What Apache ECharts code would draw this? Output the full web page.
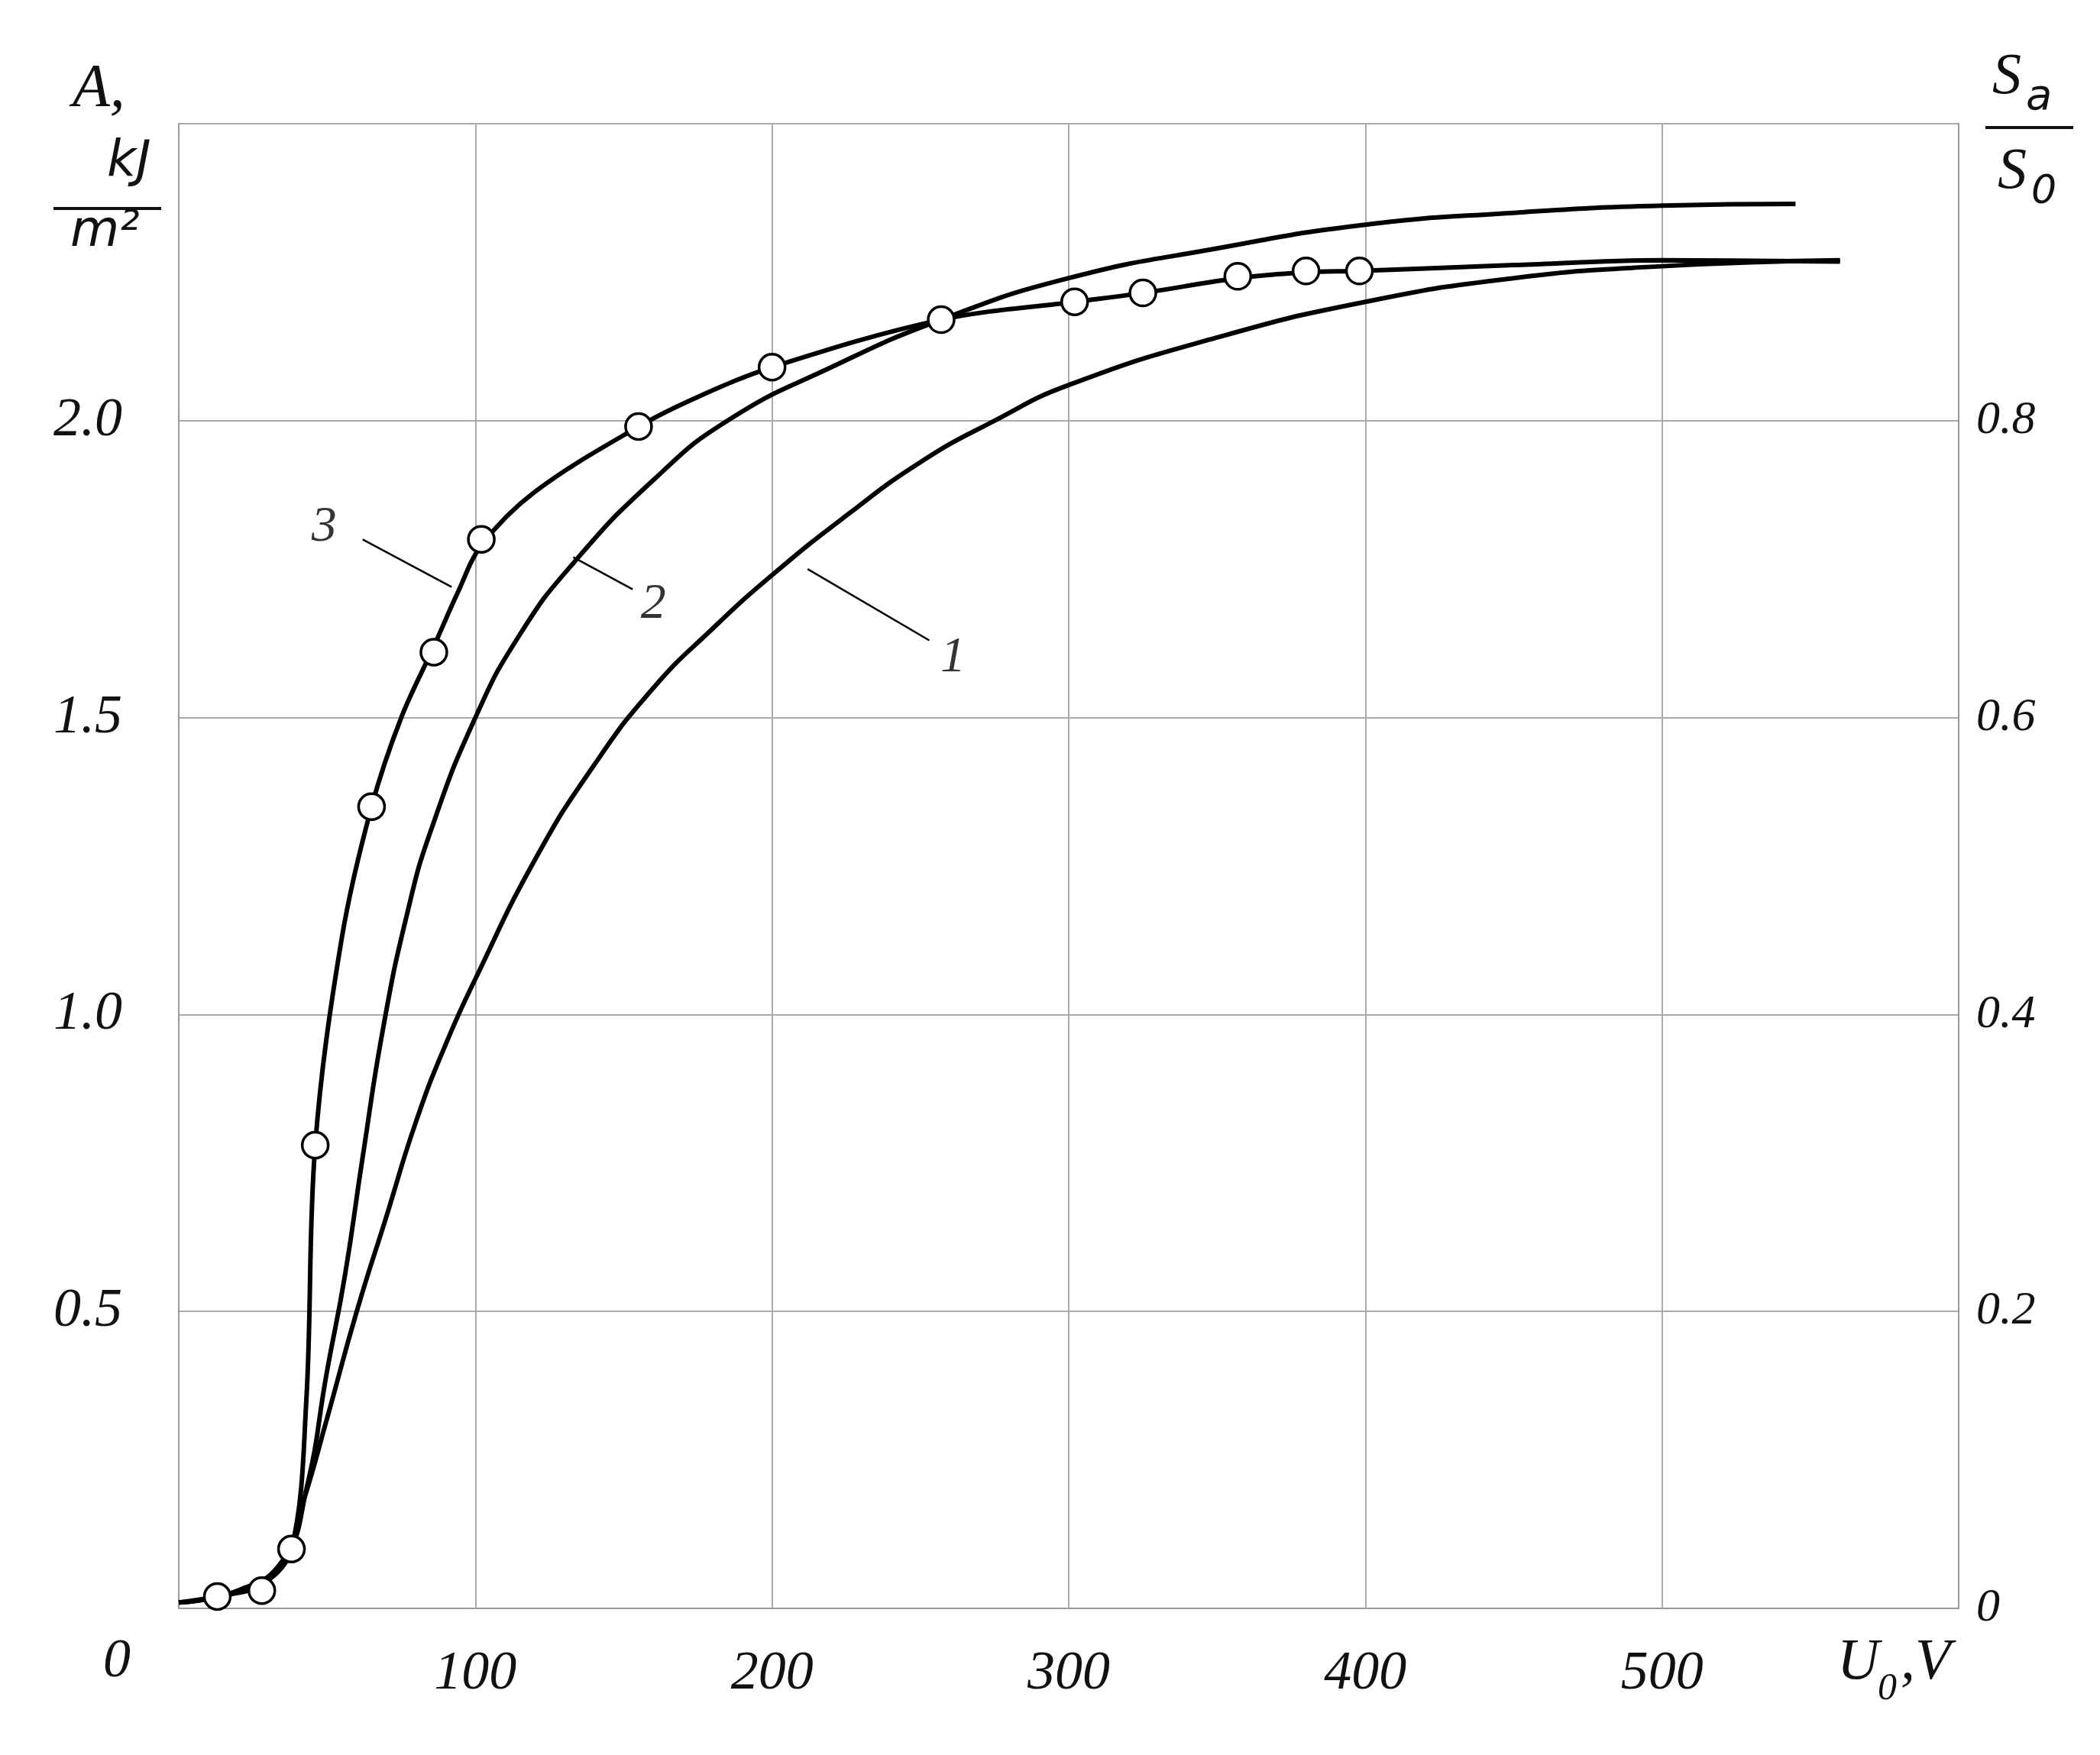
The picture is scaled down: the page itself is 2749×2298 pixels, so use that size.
<!DOCTYPE html>
<html><head><meta charset="utf-8">
<script src="https://cdn.jsdelivr.net/npm/echarts@6/dist/echarts.min.js"></script>
<style>html,body{margin:0;background:#fff}#c{width:2749px;height:2298px}</style>
</head><body><div id="c"></div>
<script>
const curve1 = [[0,0.01],[20,0.03],[35,0.08],[42,0.18],[50,0.32],[60,0.5],[70,0.66],[80,0.82],[90,0.95],[100,1.06],[120,1.26],[140,1.42],[160,1.55],[180,1.65],[200,1.74],[225,1.84],[250,1.93],[275,2.0],[300,2.06],[350,2.14],[400,2.2],[450,2.24],[500,2.26],[560,2.27]];
const curve2 = [[0,0.01],[20,0.03],[35,0.08],[43,0.2],[50,0.4],[56,0.56],[62,0.76],[69,0.98],[77,1.17],[85,1.31],[100,1.5],[115,1.64],[133,1.76],[160,1.9],[185,2.0],[220,2.09],[257,2.17],[300,2.24],[350,2.29],[400,2.33],[450,2.35],[500,2.362],[545,2.365]];
const curve3Line = [[0,0.01],[13,0.02],[28,0.04],[38,0.1],[43,0.35],[46,0.78],[55,1.13],[65,1.35],[75,1.5],[86,1.62],[94,1.71],[102,1.79],[120,1.88],[155,1.99],[175,2.04],[200,2.09],[257,2.17],[302,2.2],[325,2.215],[357,2.24],[380,2.25],[398,2.252],[450,2.262],[500,2.27],[560,2.268]];
const curve3Points = [[13,0.02],[28,0.03],[38,0.1],[46,0.78],[65,1.35],[86,1.61],[102,1.8],[155,1.99],[200,2.09],[257,2.17],[302,2.2],[325,2.215],[357,2.243],[380,2.252],[398,2.252]];
const leaders = [ [[212,1.75],[253,1.63]], [[133,1.77],[153,1.716]], [[62,1.80],[92,1.72]] ];
const labelNames = ['1','2','3'];
const labelPos = [[261,1.60],[160,1.69],[49,1.82]];

const font = 'Liberation Serif';
const chart = echarts.init(document.getElementById('c'));
const lineS = (d, sm) => ({type:'line', data:d, smooth:sm, showSymbol:false, lineStyle:{color:'#000', width:6}, z:3});
const series = [lineS(curve1,0.5), lineS(curve2,0.5), lineS(curve3Line,0.35),
 {type:'scatter', data:curve3Points, symbol:'circle', symbolSize:34, itemStyle:{color:'#fff', borderColor:'#000', borderWidth:3.5, opacity:1}, z:5}];
leaders.forEach(l=>series.push({type:'line', data:l, showSymbol:false, lineStyle:{color:'#000', width:2.5}}));
series.push({type:'scatter', data:labelPos.map((p,i)=>({value:p, name:labelNames[i]})), symbolSize:1,
  label:{show:true, position:'inside', formatter:p=>p.name, fontFamily:font, fontStyle:'italic', fontSize:66, color:'#000'}, itemStyle:{color:'rgba(0,0,0,0)'}});
chart.setOption({
 animation:false,
 grid:{left:234, right:185, top:162, bottom:192},
 xAxis:{type:'value', min:0, max:600, interval:100,
  axisLine:{show:true, lineStyle:{color:'#999', width:2}}, axisTick:{show:false},
  splitLine:{show:true, lineStyle:{color:'#aaa', width:2}},
  axisLabel:{margin:50, fontFamily:font, fontStyle:'italic', fontSize:72, color:'#111', formatter:v=>(v===0||v===600)?'':String(v)}},
 yAxis:[{type:'value', min:0, max:2.5, interval:0.5,
  axisLine:{show:true, lineStyle:{color:'#999', width:2}}, axisTick:{show:false},
  splitLine:{show:true, lineStyle:{color:'#aaa', width:2}},
  axisLabel:{margin:74, fontFamily:font, fontStyle:'italic', fontSize:72, color:'#111', formatter:v=>(v===0||v===2.5)?'':v.toFixed(1)}},
  {type:'value', min:0, max:1, interval:0.2, position:'right',
  axisLine:{show:true, lineStyle:{color:'#999', width:2}}, axisTick:{show:false}, splitLine:{show:false},
  axisLabel:{margin:23, fontFamily:font, fontStyle:'italic', fontSize:62, color:'#111', formatter:v=>v===0?'0':(v===1?'':v.toFixed(1))}}],
 graphic:[
  {type:'text', left:95, top:78, style:{text:'A,', font:'italic 80px "Liberation Serif"', fill:'#111'}},
  {type:'text', left:140, top:180, style:{text:'kJ', font:'italic 66px "DejaVu Sans"', fill:'#111'}},
  {type:'line', shape:{x1:70,y1:273,x2:211,y2:273}, style:{stroke:'#111', lineWidth:4}},
  {type:'text', left:92, top:272, style:{text:'m²', font:'italic 66px "DejaVu Sans"', fill:'#111'}},
  {type:'text', left:2608, top:64, style:{text:'S', font:'italic 76px "Liberation Serif"', fill:'#111'}},
  {type:'text', left:2652, top:100, style:{text:'a', font:'italic 56px "DejaVu Sans"', fill:'#111'}},
  {type:'line', shape:{x1:2599,y1:167,x2:2714,y2:167}, style:{stroke:'#111', lineWidth:4}},
  {type:'text', left:2615, top:188, style:{text:'S', font:'italic 76px "Liberation Serif"', fill:'#111'}},
  {type:'text', left:2659, top:226, style:{text:'0', font:'italic 52px "DejaVu Sans"', fill:'#111'}},
  {type:'text', left:135, top:2140, style:{text:'0', font:'italic 72px "Liberation Serif"', fill:'#111'}},
  {type:'text', left:2405, top:2140, style:{text:'U', font:'italic 76px "Liberation Serif"', fill:'#111'}},
  {type:'text', left:2458, top:2187, style:{text:'0', font:'italic 50px "Liberation Serif"', fill:'#111'}},
  {type:'text', left:2488, top:2140, style:{text:',V', font:'italic 76px "Liberation Serif"', fill:'#111'}}
 ],
 series: series
});
</script></body></html>
